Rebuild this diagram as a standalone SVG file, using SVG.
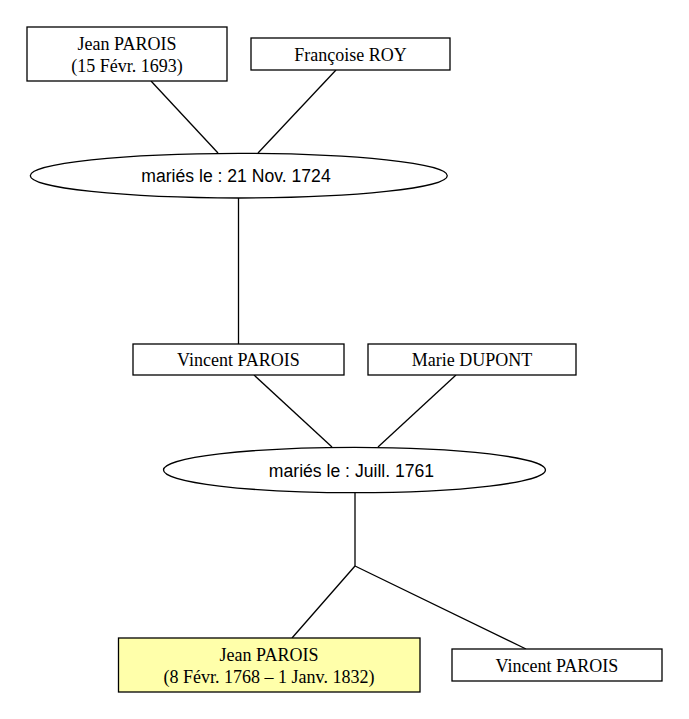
<svg xmlns="http://www.w3.org/2000/svg" width="689" height="719" viewBox="0 0 689 719">
<style>
.box{fill:#ffffff;stroke:#000;stroke-width:1.3}
.self{fill:#ffffaa;stroke:#000;stroke-width:1.3}
.fam{fill:#ffffff;stroke:#000;stroke-width:1.3}
.lbl{font-family:"Liberation Serif","Times New Roman",serif;font-size:18px;text-anchor:middle;fill:#000}
.flbl{font-family:"Liberation Sans",Arial,sans-serif;font-size:17.6px;text-anchor:middle;fill:#000}
.edge{fill:none;stroke:#000;stroke-width:1.3}
</style>
<rect width="689" height="719" fill="#ffffff"/>
<g id="connectors">
<path class="edge" d="M151,81 L218,153"/>
<path class="edge" d="M336,70 L258,153"/>
<path class="edge" d="M238.5,198 L238.5,270.5 L238.5,344"/>
<path class="edge" d="M254,375 L332,447"/>
<path class="edge" d="M456,375 L378,447"/>
<path class="edge" d="M355,493 L355,566"/>
<path class="edge" d="M355,566 L292,638"/>
<path class="edge" d="M355,566 L526,649"/>
</g>
<g id="n_jean1693">
<rect class="box" x="27" y="27" width="200" height="54"/>
<text class="lbl" x="127" y="50">Jean PAROIS</text>
<text class="lbl" x="127" y="72">(15 Févr. 1693)</text>
</g>
<g id="n_francoise">
<rect class="box" x="251" y="38" width="199" height="32"/>
<text class="lbl" x="350.5" y="61">Françoise ROY</text>
</g>
<g id="f_1724">
<ellipse class="fam" cx="238.8" cy="175.7" rx="208.5" ry="22.3"/>
<text class="flbl" x="236" y="182">mariés le : 21 Nov. 1724</text>
</g>
<g id="n_vincent1">
<rect class="box" x="133" y="344" width="211" height="31"/>
<text class="lbl" x="238.5" y="366">Vincent PAROIS</text>
</g>
<g id="n_marie">
<rect class="box" x="368" y="344" width="208" height="31"/>
<text class="lbl" x="472" y="366">Marie DUPONT</text>
</g>
<g id="f_1761">
<ellipse class="fam" cx="354.5" cy="470" rx="191" ry="22.7"/>
<text class="flbl" x="351.5" y="476.5">mariés le : Juill. 1761</text>
</g>
<g id="n_jean1768">
<rect class="self" x="118.5" y="638" width="301.5" height="54"/>
<text class="lbl" x="269" y="661">Jean PAROIS</text>
<text class="lbl" x="269" y="683">(8 Févr. 1768 – 1 Janv. 1832)</text>
</g>
<g id="n_vincent2">
<rect class="box" x="452" y="649" width="210" height="32"/>
<text class="lbl" x="557" y="672">Vincent PAROIS</text>
</g>
</svg>
